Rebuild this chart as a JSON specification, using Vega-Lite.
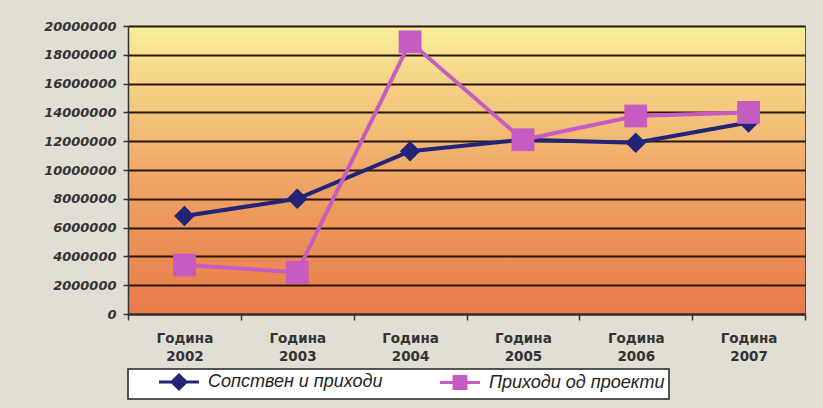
{
  "$schema": "https://vega.github.io/schema/vega-lite/v6.json",
  "width": 677,
  "height": 288,
  "autosize": {"type": "none"},
  "padding": {"left": 128, "top": 26, "right": 18, "bottom": 94},
  "background": "#e2ded3",
  "config": {
    "view": {
      "fill": {"gradient": "linear", "x1": 0, "y1": 0, "x2": 0, "y2": 1,
        "stops": [{"offset": 0, "color": "#f9ee9a"}, {"offset": 0.5, "color": "#efa868"}, {"offset": 1, "color": "#e77a48"}]},
      "stroke": "#6a4a2a",
      "strokeWidth": 1
    },
    "font": "Liberation Sans"
  },
  "data": {
    "values": [
      {"year": "2002", "series": "Сопствен и приходи", "value": 6800000},
      {"year": "2003", "series": "Сопствен и приходи", "value": 8000000},
      {"year": "2004", "series": "Сопствен и приходи", "value": 11300000},
      {"year": "2005", "series": "Сопствен и приходи", "value": 12100000},
      {"year": "2006", "series": "Сопствен и приходи", "value": 11900000},
      {"year": "2007", "series": "Сопствен и приходи", "value": 13300000},
      {"year": "2002", "series": "Приходи од проекти", "value": 3400000},
      {"year": "2003", "series": "Приходи од проекти", "value": 2900000},
      {"year": "2004", "series": "Приходи од проекти", "value": 18900000},
      {"year": "2005", "series": "Приходи од проекти", "value": 12100000},
      {"year": "2006", "series": "Приходи од проекти", "value": 13750000},
      {"year": "2007", "series": "Приходи од проекти", "value": 14000000}
    ]
  },
  "encoding": {
    "x": {
      "field": "year", "type": "ordinal",
      "scale": {"type": "band", "paddingInner": 0, "paddingOuter": 0},
      "axis": {
        "title": null, "labelExpr": "datum.label ? ['Година', datum.label] : ''", "labelAngle": 0,
        "labelFont": "DejaVu Sans", "labelFontWeight": "bold", "labelFontSize": 13.5,
        "labelColor": "#333333", "labelPadding": 11, "labelLineHeight": 18,
        "tickBand": "extent", "tickSize": 6, "tickColor": "#333333", "tickWidth": 1.5,
        "domainColor": "#333333", "domainWidth": 2, "grid": false
      }
    },
    "y": {
      "field": "value", "type": "quantitative",
      "scale": {"domain": [0, 20000000], "nice": false},
      "axis": {
        "title": null,
        "values": [0, 2000000, 4000000, 6000000, 8000000, 10000000, 12000000, 14000000, 16000000, 18000000, 20000000],
        "format": "d", "labelFont": "DejaVu Sans", "labelFontWeight": "bold", "labelFontStyle": "italic",
        "labelFontSize": 13, "labelColor": "#333333", "labelPadding": 7,
        "domainColor": "#333333", "domainWidth": 1.5, "tickColor": "#333333", "tickSize": 5, "tickWidth": 1.5,
        "gridColor": "#2a1608", "gridWidth": 2, "gridOpacity": 1
      }
    },
    "color": {
      "field": "series", "type": "nominal",
      "scale": {"domain": ["Сопствен и приходи", "Приходи од проекти"], "range": ["#232378", "#c65cc2"]},
      "legend": {
        "orient": "none", "legendX": 0, "legendY": 343, "direction": "horizontal", "title": null,
        "fillColor": "#ffffff", "strokeColor": "#222222", "padding": 4,
        "labelFont": "Liberation Sans", "labelFontStyle": "italic", "labelFontSize": 18, "labelColor": "#222222",
        "labelLimit": 400,
        "symbolSize": 196, "symbolStrokeWidth": 3, "columnPadding": 30, "symbolOffset": 38, "labelOffset": 20,
        "encode": {
          "legend": {"update": {"strokeWidth": {"value": 1.5}}},
          "symbols": {
            "update": {
              "shape": {"signal": "datum.value === 'Сопствен и приходи' ? 'M-2.85,0L2.85,0M0,-1L1,0L0,1L-1,0Z' : 'M-2.85,0L2.85,0M-0.85,-0.85L0.85,-0.85L0.85,0.85L-0.85,0.85Z'"},
              "fill": {"scale": "color", "field": "value"},
              "stroke": {"scale": "color", "field": "value"},
              "strokeWidth": {"value": 3},
              "opacity": {"value": 1}
            }
          }
        }
      }
    }
  },
  "layer": [
    {"mark": {"type": "line", "strokeWidth": 4}},
    {
      "mark": {"type": "point", "filled": true, "opacity": 1},
      "encoding": {
        "shape": {"condition": {"test": "datum.series === 'Сопствен и приходи'", "value": "diamond"}, "value": "square"},
        "size": {"condition": {"test": "datum.series === 'Сопствен и приходи'", "value": 420}, "value": 520}
      }
    }
  ]
}
